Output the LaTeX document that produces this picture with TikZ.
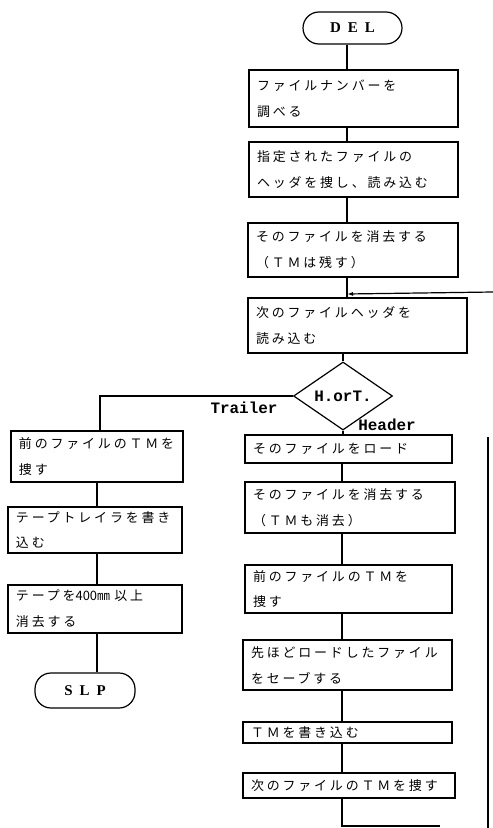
\documentclass[tikz,border=0pt]{standalone}
\usepackage{fontspec}
\setmonofont{Liberation Mono}
\newfontfamily\jp[LetterSpace=22]{Noto Sans CJK JP}
\newfontfamily\serifb{Liberation Serif}
\newcommand{\plainnum}[1]{{\addfontfeature{LetterSpace=0}#1}}
\usetikzlibrary{shapes.geometric,arrows.meta}
\tikzset{
  box/.style={draw, line width=1.2bp, align=left, inner xsep=8bp, inner ysep=0pt,
    font=\jp\fontsize{13}{26}\selectfont, anchor=center},
  term/.style={draw, line width=1.2bp, rounded corners=16bp, inner sep=0pt,
    font=\serifb\bfseries\fontsize{15}{15}\selectfont, anchor=center},
  dec/.style={draw, line width=1.2bp, diamond, inner sep=0pt,
    font=\ttfamily\bfseries\fontsize{16}{16}\selectfont},
  lbl/.style={font=\ttfamily\bfseries\fontsize{16}{16}\selectfont, inner sep=0pt},
  conn/.style={line width=1.2bp},
}
\begin{document}
\begin{tikzpicture}[x=1bp,y=-1bp]
\useasboundingbox (0,0) rectangle (493,828);
% main column
\node[term, minimum width=99bp, minimum height=32bp] (del) at (352.5,28) {D\hspace{7bp}E\hspace{7bp}L};
\node[box, minimum width=209bp, text width=193bp, minimum height=57bp] (b1) at (353.5,98.5) {ファイルナンバーを\\調べる};
\node[box, minimum width=209bp, text width=193bp, minimum height=55bp] (b2) at (353.5,169.5) {指定されたファイルの\\ヘッダを捜し、読み込む};
\node[box, minimum width=210bp, text width=194bp, minimum height=54bp] (b3) at (353,250) {そのファイルを消去する\\（ＴＭは残す）};
\node[box, minimum width=219bp, text width=203bp, minimum height=55bp] (b4) at (357.5,325.5) {次のファイルヘッダを\\読み込む};
\node[dec, minimum width=99bp, minimum height=47bp] (d) at (343,396) {H.orT.};
% left column
\node[box, minimum width=172bp, text width=156bp, minimum height=51bp] (l1) at (97,456.5) {前のファイルのＴＭを\\捜す};
\node[box, minimum width=174bp, text width=158bp, minimum height=46bp] (l2) at (95,530) {テープトレイラを書き\\込む};
\node[box, minimum width=174bp, text width=158bp, minimum height=48bp] (l3) at (95,609) {テープを\plainnum{400}㎜ 以上\\消去する};
\node[term, minimum width=100bp, minimum height=35bp] (slp) at (85,690.5) {S\hspace{7bp}L\hspace{7bp}P};
% right column
\node[box, minimum width=207bp, text width=191bp, minimum height=28bp] (r1) at (348.5,449) {そのファイルをロード};
\node[box, minimum width=210bp, text width=194bp, minimum height=51bp] (r2) at (350,507.5) {そのファイルを消去する\\（ＴＭも消去）};
\node[box, minimum width=207bp, text width=191bp, minimum height=48bp] (r3) at (348.5,589) {前のファイルのＴＭを\\捜す};
\node[box, minimum width=209bp, text width=193bp, minimum height=50bp] (r4) at (347.5,665) {先ほどロードしたファイル\\をセーブする};
\node[box, minimum width=209bp, text width=193bp, minimum height=21bp] (r5) at (347.5,732.5) {ＴＭを書き込む};
\node[box, minimum width=212bp, text width=196bp, minimum height=25bp] (r6) at (349,785.5) {次のファイルのＴＭを捜す};
% labels
\node[lbl] (tr) at (244,408) {Trailer};
\node[lbl] (hd) at (387,425) {Header};
% column coordinates
\coordinate (mx) at (347,0);
\coordinate (lx) at (97,0);
\coordinate (rx) at (342,0);
\coordinate (J) at (347,294);
\coordinate (loopin) at (493,292);
\coordinate (lcorner) at (100,394);
\coordinate (bot) at (342,826);
\coordinate (botend) at (440,826);
\coordinate (vtop) at (488,437);
\coordinate (vbot) at (488,828);
% connectors
\draw[conn] (del.south -| mx) -- (b1.north -| mx);
\draw[conn] (b1.south -| mx) -- (b2.north -| mx);
\draw[conn] (b2.south -| mx) -- (b3.north -| mx);
\draw[conn] (b3.south -| mx) -- (b4.north -| mx);
\draw[conn] (b4.south -| d.north) -- (d.north);
\draw[conn, -{Latex[length=6bp,width=4bp]}] (loopin) -- (J);
\draw[conn] (d.west) -- (d.west -| lcorner) -- (l1.north -| lcorner);
\draw[conn] (l1.south -| lx) -- (l2.north -| lx);
\draw[conn] (l2.south -| lx) -- (l3.north -| lx);
\draw[conn] (l3.south -| lx) -- (slp.north -| lx);
\draw[conn] (d.south) -- (r1.north -| d.south);
\draw[conn] (r1.south -| rx) -- (r2.north -| rx);
\draw[conn] (r2.south -| rx) -- (r3.north -| rx);
\draw[conn] (r3.south -| rx) -- (r4.north -| rx);
\draw[conn] (r4.south -| rx) -- (r5.north -| rx);
\draw[conn] (r5.south -| rx) -- (r6.north -| rx);
\draw[conn] (r6.south -| rx) -- (bot) -- (botend);
\draw[conn] (vtop) -- (vbot);
\end{tikzpicture}
\end{document}
